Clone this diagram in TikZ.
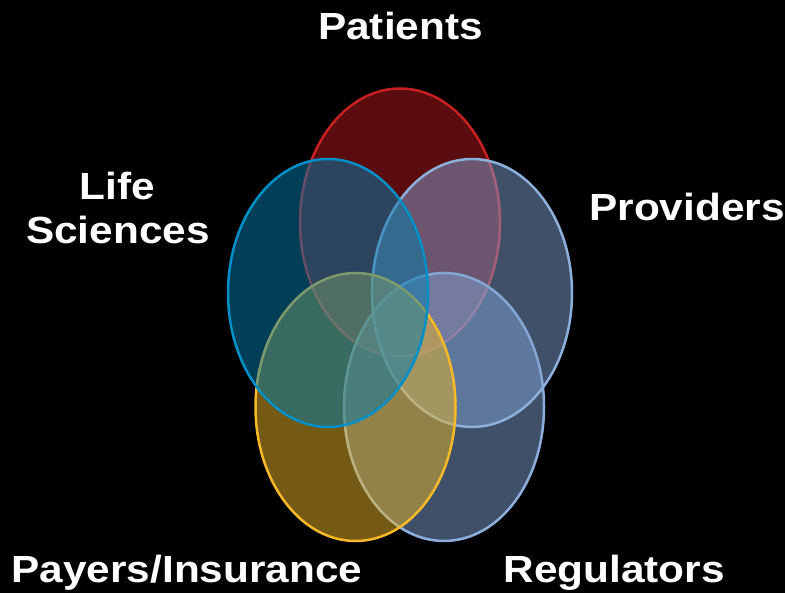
\documentclass[tikz,border=0pt]{standalone}
\usepackage{fontspec}
\setmainfont{Liberation Sans}[FakeStretch=1.12]
\begin{document}
\begin{tikzpicture}[x=1pt,y=-1pt,
  lab/.style={text=white,inner sep=0pt,anchor=base,font=\fontsize{37.8}{44}\selectfont\bfseries},
  venn/.style={line width=2.5pt,fill opacity=0.5,draw opacity=1}]
\definecolor{redF}{RGB}{180,24,28}
\definecolor{redS}{RGB}{200,32,32}
\definecolor{blueF}{RGB}{2,124,174}
\definecolor{blueS}{RGB}{0,144,200}
\definecolor{provF}{RGB}{126,160,208}
\definecolor{provS}{RGB}{140,176,220}
\definecolor{payF}{RGB}{232,180,40}
\definecolor{payS}{RGB}{247,185,40}
\definecolor{regF}{RGB}{126,160,208}
\definecolor{regS}{RGB}{140,174,220}
\fill[black] (0,0) rectangle (785,593);
\useasboundingbox (0,0) rectangle (785,593);
% ellipses
\path[venn,fill=redF,draw=redS] (400,222.5) ellipse [x radius=100pt, y radius=134pt];
\path[venn,fill=regF,draw=regS] (444,407) ellipse [x radius=100pt, y radius=134pt];
\path[venn,fill=provF,draw=provS] (472,293) ellipse [x radius=100pt, y radius=134pt];
\path[venn,fill=payF,draw=payS] (355.5,407) ellipse [x radius=100pt, y radius=134pt];
\path[venn,fill=blueF,draw=blueS] (328,293) ellipse [x radius=100pt, y radius=134pt];
% labels
\node[lab] (patients) at (400.5,39.5) {Patients};
\node[lab] (life) at (117,199.5) {Life};
\node[lab] (sci) at (118,243.5) {Sciences};
\node[lab] (providers) at (687,220.5) {Providers};
\node[lab] (payers) at (187,582.5) {Payers/Insurance};
\node[lab] (regulators) at (614,582.5) {Regulators};
\end{tikzpicture}
\end{document}
